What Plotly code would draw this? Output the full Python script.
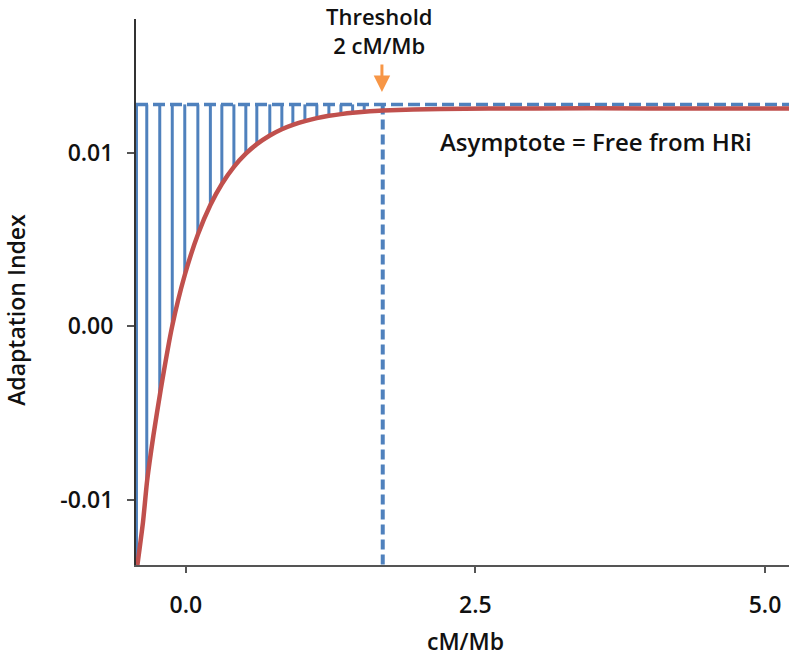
import plotly.graph_objects as go

# ---- data ----
curve_x = [-0.418, -0.37, -0.334, -0.28, -0.218, -0.118, -0.009, 0.104, 0.212, 0.311,
           0.415, 0.518, 0.613, 0.725, 0.829, 0.924, 1.028, 1.131, 1.235, 1.339,
           1.44, 1.54, 1.70, 2.2, 3.0, 4.0, 5.21]
curve_y = [-0.01375, -0.0113, -0.0089, -0.0063, -0.0037, 0.0, 0.00296, 0.00529, 0.00699, 0.0082,
           0.00919, 0.00995, 0.0105, 0.011, 0.01136, 0.01161, 0.01183, 0.012, 0.01213, 0.01223,
           0.01231, 0.01237, 0.01244, 0.01253, 0.01256, 0.01256, 0.01256]

comb_x = [-0.426, -0.337, -0.225, -0.117, -0.009, 0.104, 0.212, 0.311, 0.415, 0.518,
          0.613, 0.725, 0.829, 0.924, 1.028, 1.131, 1.235, 1.339, 1.44, 1.54]
comb_bottom = [-0.01375, -0.00895, -0.00395, 0.0, 0.00296, 0.00529, 0.00699, 0.0082, 0.00919, 0.00995,
               0.0105, 0.011, 0.01136, 0.01161, 0.01183, 0.012, 0.01213, 0.01223, 0.01231, 0.01237]

asymptote = 0.01279
r_opt = 1.70

x_ticks = [0.0, 2.5, 5.0]
x_tick_labels = ["0.0", "2.5", "5.0"]
y_ticks = [-0.01, 0.0, 0.01]
y_tick_labels = ["-0.01", "0.00", "0.01"]

x_range = [-0.43, 5.207]
y_range = [-0.01375, 0.01771]

BLUE = "#4F81BD"
RED = "#C0504D"
ORANGE = "#F79646"
FONT = "Open Sans"
INK = "#111111"

comb_xs, comb_ys = [], []
for cx, cb in zip(comb_x, comb_bottom):
    comb_xs += [cx, cx, None]
    comb_ys += [asymptote, cb, None]

fig = go.Figure()
fig.add_trace(go.Scatter(x=comb_xs, y=comb_ys, mode="lines",
                         line=dict(color=BLUE, width=3), hoverinfo="skip"))
fig.add_trace(go.Scatter(x=x_range, y=[asymptote, asymptote], mode="lines",
                         line=dict(color=BLUE, width=3.5, dash="12px,5px"), hoverinfo="skip"))
fig.add_trace(go.Scatter(x=[r_opt, r_opt], y=[asymptote, y_range[0]], mode="lines",
                         line=dict(color=BLUE, width=4, dash="10px,5px"), hoverinfo="skip"))
fig.add_trace(go.Scatter(x=curve_x, y=curve_y, mode="lines",
                         line=dict(color=RED, width=4.5, shape="spline", smoothing=0.6),
                         hoverinfo="skip"))


def f(size):
    return dict(family=FONT, size=size, color=INK, weight=600)


annotations = [
    dict(x=1.67, y=0.01707, xref="x", yref="y", text="Threshold<br>2 cM/Mb",
         showarrow=False, font=f(22), xanchor="center", yanchor="middle"),
    dict(x=1.693, y=0.0135, xref="x", yref="y", text="", showarrow=True,
         ax=0, ay=-29, arrowcolor=ORANGE, arrowwidth=3, arrowhead=2, arrowsize=1.1, standoff=0),
    dict(x=3.54, y=0.01067, xref="x", yref="y", text="Asymptote = Free from HRi",
         showarrow=False, font=f(24), xanchor="center", yanchor="middle"),
    dict(x=r_opt, y=-0.01475, xref="x", yref="y", text="r<sub>opt</sub>",
         showarrow=False, font=f(24), xanchor="center", yanchor="middle"),
    dict(x=-0.184, y=0.467, xref="paper", yref="paper", text="Adaptation Index",
         textangle=-90, showarrow=False, font=f(23), xanchor="center", yanchor="middle"),
    dict(x=0.504, y=-0.139, xref="paper", yref="paper", text="cM/Mb",
         showarrow=False, font=f(23), xanchor="center", yanchor="middle"),
]

fig.update_layout(
    width=789, height=658,
    margin=dict(l=136, r=0, t=19, b=93),
    paper_bgcolor="white", plot_bgcolor="white",
    showlegend=False,
    annotations=annotations,
    font=dict(family=FONT, size=23, color=INK),
)
fig.update_xaxes(range=x_range, showgrid=False, zeroline=False,
                 showline=True, linecolor="#555555", linewidth=2,
                 ticks="outside", ticklen=6, tickwidth=2, tickcolor="#555555",
                 tickvals=x_ticks, ticktext=x_tick_labels,
                 tickfont=f(23), ticklabelstandoff=12)
fig.update_yaxes(range=y_range, showgrid=False, zeroline=False,
                 showline=True, linecolor="#333333", linewidth=2,
                 ticks="outside", ticklen=7, tickwidth=2, tickcolor="#555555",
                 tickvals=y_ticks, ticktext=y_tick_labels,
                 tickfont=f(23), ticklabelstandoff=9)

# remove the browser's default 8px body margin so the figure fills the window
fig.write_html("out.html",
               config={"displayModeBar": False},
               post_script="document.body.style.margin='0';document.body.style.overflow='hidden';")
